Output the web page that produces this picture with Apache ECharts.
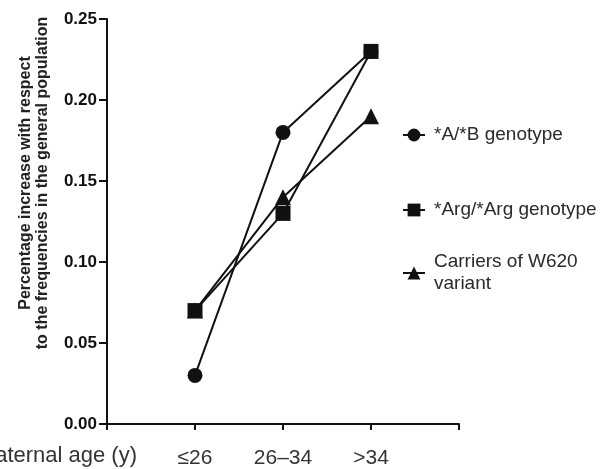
<!DOCTYPE html>
<html>
<head>
<meta charset="utf-8">
<script src="https://cdn.jsdelivr.net/npm/echarts@6/dist/echarts.min.js"></script>
<style>
html,body{margin:0;padding:0;background:#fff;}
#chart{width:613px;height:469px;}
</style>
</head>
<body>
<div id="chart"></div>
<script>
// Data
var categories = ['≤26', '26–34', '>34'];
var seriesNames = ['*A/*B genotype', '*Arg/*Arg genotype', 'Carriers of W620 variant'];
var abValues = [0.03, 0.18, 0.23];
var argValues = [0.07, 0.13, 0.23];
var w620Values = [0.07, 0.14, 0.19];
var yTicks = ['0.00', '0.05', '0.10', '0.15', '0.20', '0.25'];
var xAxisTitle = 'Maternal age (y)';
var yAxisTitle = 'Percentage increase with respect\nto the frequencies in the general population';

function toPairs(vals) {
  return vals.map(function (v, i) { return [i + 1, v]; });
}

var FONT = '"Liberation Sans", Arial, sans-serif';
var INK = '#111';

var chart = echarts.init(document.getElementById('chart'), null, {renderer: 'canvas'});

function mkSeries(name, vals, symbol, size, z) {
  return {
    type: 'line',
    name: name,
    data: toPairs(vals),
    symbol: symbol,
    symbolSize: size,
    z: z,
    lineStyle: {color: INK, width: 2},
    itemStyle: {color: INK, borderWidth: 0},
    emphasis: {disabled: true},
    animation: false
  };
}

function mkLegend(name, top) {
  return {
    data: [name],
    left: 402,
    top: top,
    padding: 0,
    itemWidth: 22,
    itemHeight: 16,
    selectedMode: false,
    formatter: function (n) { return n === seriesNames[2] ? 'Carriers of W620\nvariant' : n; },
    textStyle: {fontFamily: FONT, fontSize: 19, color: '#2a2a2a', lineHeight: 22, padding: [0, 0, 0, 4]}
  };
}

chart.setOption({
  backgroundColor: '#fff',
  animation: false,
  grid: {left: 107, right: 154, top: 19, bottom: 45, containLabel: false},
  xAxis: {
    type: 'value',
    min: 0, max: 4, interval: 1,
    axisLine: {show: true, lineStyle: {color: INK, width: 2}},
    axisTick: {show: true, length: 6, lineStyle: {color: INK, width: 2}},
    splitLine: {show: false},
    axisLabel: {
      margin: 24,
      fontFamily: FONT, fontSize: 21, color: '#333',
      formatter: function (v) { return (v >= 1 && v <= 3) ? categories[v - 1] : ''; }
    }
  },
  yAxis: {
    type: 'value',
    min: 0, max: 0.25, interval: 0.05,
    axisLine: {show: true, lineStyle: {color: INK, width: 2}},
    axisTick: {show: true, length: 8, lineStyle: {color: INK, width: 2}},
    splitLine: {show: false},
    axisLabel: {
      margin: 10,
      fontFamily: FONT, fontSize: 17, fontWeight: 'bold', color: INK,
      formatter: function (v) { return yTicks[Math.round(v / 0.05)]; }
    }
  },
  legend: [
    mkLegend(seriesNames[0], 124),
    mkLegend(seriesNames[1], 199),
    mkLegend(seriesNames[2], 251)
  ],
  series: [
    mkSeries(seriesNames[0], abValues, 'circle', 15, 3),
    mkSeries(seriesNames[1], argValues, 'rect', 15, 4),
    mkSeries(seriesNames[2], w620Values, 'triangle', 16, 5)
  ],
  graphic: [
    {
      type: 'text',
      x: 137, y: 456,
      style: {
        text: xAxisTitle,
        fontFamily: FONT, fontSize: 22, fill: '#333',
        textAlign: 'right', textVerticalAlign: 'middle'
      }
    },
    {
      type: 'text',
      x: 34, y: 183,
      rotation: Math.PI / 2,
      style: {
        text: yAxisTitle,
        fontFamily: FONT, fontSize: 16, fontWeight: 'bold', fill: '#222',
        lineHeight: 17,
        textAlign: 'center', textVerticalAlign: 'middle'
      }
    }
  ]
});
</script>
</body>
</html>
